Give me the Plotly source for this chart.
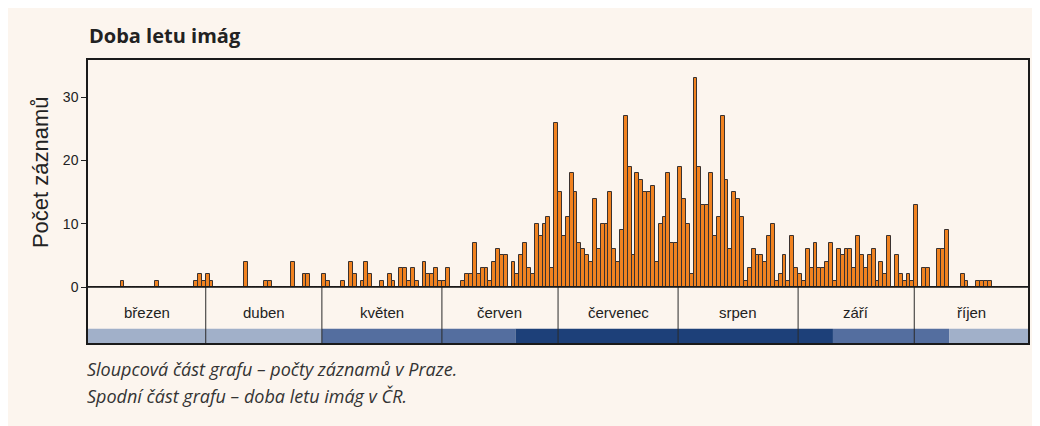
import plotly.graph_objects as go

# ---- data (daily record counts in Prague, 1 Mar - 31 Oct) ----
month_names = ["březen", "duben", "květen", "červen", "červenec", "srpen", "září", "říjen"]
month_lengths = [31, 30, 31, 30, 31, 31, 30, 31]

mar = [0,0,0,0,0,0,0,0,0,1, 0,0,0,0,0,0,0,0,1,0, 0,0,0,0,0,0,0,0,1,2, 1]
apr = [2,1,0,0,0,0,0,0,0,0, 4,0,0,0,0,1,1,0,0,0, 0,0,4,0,0,2,2,0,0,0]
may = [2,1,0,0,0,1,0,4,2,0, 1,4,2,0,0,1,0,2,1,0, 3,3,1,3,1,0,4,2,2,3, 1]
jun = [1,3,0,0,0,1,2,2,7,2, 3,3,1,4,6,5,5,0,4,2, 5,7,3,2,10,8,10,11,3,26]
jul = [15,8,11,18,15,7,6,5,4,14, 6,10,10,15,6,4,9,27,19,5, 18,17,15,15,16,4,10,11,18,7, 7]
aug = [19,14,10,2,33,19,13,13,18,8, 11,27,17,6,15,14,11,1,3,6, 5,5,4,8,10,1,2,5,1,8, 3]
sep = [2,1,6,3,7,3,3,4,7,1, 6,5,6,6,3,8,5,3,5,6, 1,4,2,8,0,5,2,1,2,1]
oct_ = [13,0,3,3,0,0,6,6,9,0, 0,0,2,1,0,0,1,1,1,1, 0,0,0,0,0,0,0,0,0,0, 0]

# flight period in CZ (bottom strip): start day index, end day index, intensity
flight_starts = [0, 61, 111, 193, 223]
flight_ends = [61, 111, 193, 223, 245]
flight_levels = ["low", "mid", "high", "mid", "low"]

y_ticks = [0, 10, 20, 30]

# ---- build ----
counts = mar + apr + may + jun + jul + aug + sep + oct_
days = [i + 0.5 for i in range(len(counts))]

BG = "#FCF5EE"
level_colors = {"low": "#A1B0C9", "mid": "#546E9F", "high": "#1D4079"}

X_MIN, X_MAX = 0.59, 243.38
Y_BOT = -8.85
Y_TOP = 35.9
BAND_TOP = -6.6
LABEL_Y = -3.95

# page body has an 8px margin -> figure sits at (8, 8)
OFF = 8
W, H = 1040 - OFF, 426 - OFF
ML, MR, MT, MB = 88 - OFF, 1040 - 1030, 60 - OFF, 426 - 343
pw, ph = W - ML - MR, H - MT - MB


def px2paper(px, py):
    """page pixel -> paper coordinate"""
    return (px - OFF - ML) / pw, (H - MB - (py - OFF)) / ph


fig = go.Figure()
fig.add_trace(go.Bar(
    x=days, y=counts, width=1.0,
    marker=dict(color="#F08220", line=dict(color="#3A3230", width=1)),
    showlegend=False, hoverinfo="x+y",
))

shapes = []
for s, e, lv in zip(flight_starts, flight_ends, flight_levels):
    shapes.append(dict(type="rect", xref="x", yref="y", x0=max(s, X_MIN), x1=min(e, X_MAX),
                       y0=Y_BOT, y1=BAND_TOP,
                       fillcolor=level_colors[lv], line=dict(width=0), layer="above"))
bounds = [0]
for L in month_lengths:
    bounds.append(bounds[-1] + L)
for b in bounds[1:-1]:
    shapes.append(dict(type="line", xref="x", yref="y", x0=b, x1=b, y0=Y_BOT, y1=0,
                       line=dict(color="#2a2a2a", width=1), layer="above"))
shapes.append(dict(type="line", xref="x", yref="y", x0=X_MIN, x1=X_MAX, y0=0, y1=0,
                   line=dict(color="#111111", width=1.5), layer="above"))

annotations = []
lab_bounds = [max(b, X_MIN) for b in bounds[:-1]] + [X_MAX]
for name, a, b in zip(month_names, lab_bounds[:-1], lab_bounds[1:]):
    annotations.append(dict(x=(a + b) / 2, y=LABEL_Y, xref="x", yref="y", text=name,
                            showarrow=False, font=dict(family="Liberation Sans", size=15, color="#222222")))

ax_, ay_ = px2paper(40, 172)
annotations.append(dict(x=ax_, y=ay_, xref="paper", yref="paper", text="Počet záznamů",
                        textangle=-90, showarrow=False, xanchor="center", yanchor="middle",
                        font=dict(family="Liberation Sans", size=22, color="#222222")))
tx, ty = px2paper(87, 35)
annotations.append(dict(x=tx, y=ty, xref="paper", yref="paper", text="<b>Doba letu imág</b>",
                        showarrow=False, xanchor="left", yanchor="middle",
                        font=dict(family="Open Sans", size=20, color="#222222")))
c1x, c1y = px2paper(85, 369)
annotations.append(dict(x=c1x, y=c1y, xref="paper", yref="paper",
                        text="<i>Sloupcová část grafu – počty záznamů v Praze.</i>",
                        showarrow=False, xanchor="left", yanchor="middle",
                        font=dict(family="Open Sans", size=18, color="#333333")))
c2x, c2y = px2paper(85, 396)
annotations.append(dict(x=c2x, y=c2y, xref="paper", yref="paper",
                        text="<i>Spodní část grafu – doba letu imág v ČR.</i>",
                        showarrow=False, xanchor="left", yanchor="middle",
                        font=dict(family="Open Sans", size=18, color="#333333")))

fig.update_layout(
    width=W, height=H,
    margin=dict(l=ML, r=MR, t=MT, b=MB),
    paper_bgcolor=BG, plot_bgcolor=BG,
    bargap=0,
    shapes=shapes, annotations=annotations,
    xaxis=dict(range=[X_MIN, X_MAX], showticklabels=False, ticks="", showgrid=False, zeroline=False,
               showline=True, mirror=True, linecolor="#1a1a1a", linewidth=1.5, fixedrange=True),
    yaxis=dict(range=[Y_BOT, Y_TOP], tickvals=y_ticks, ticks="outside", ticklen=5,
               tickcolor="#222222", showgrid=False, zeroline=False,
               showline=True, mirror=True, linecolor="#1a1a1a", linewidth=1.5,
               tickfont=dict(family="Liberation Sans", size=14, color="#222222")),
)

fig.write_html("out.html")
